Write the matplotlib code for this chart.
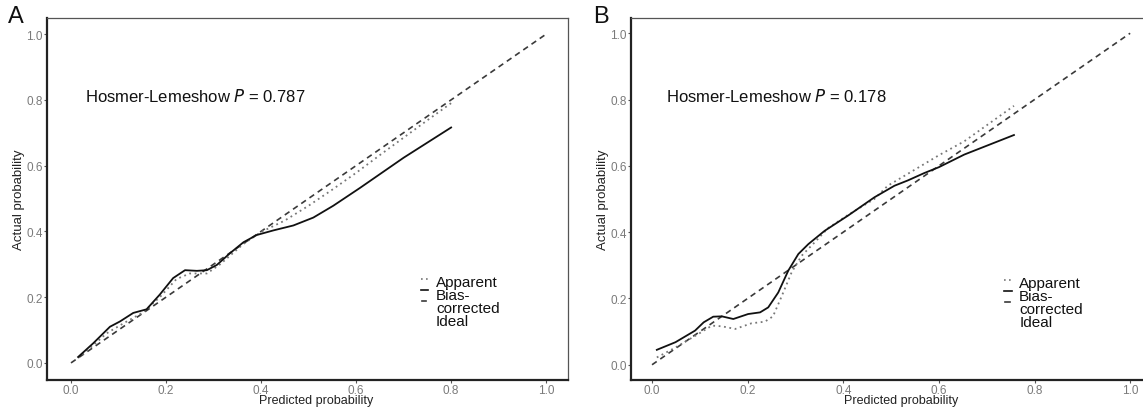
import matplotlib
matplotlib.use("Agg")
import matplotlib.pyplot as plt

plt.rcParams["font.family"] = ["Liberation Sans", "DejaVu Sans"]

# Panel A: calibration curves
a_app_x = [0.015, 0.04, 0.075, 0.11, 0.152, 0.187, 0.222, 0.25, 0.286, 0.314,
           0.363, 0.40, 0.45, 0.50, 0.55, 0.60, 0.65, 0.70, 0.75, 0.80]
a_app_y = [0.015, 0.045, 0.09, 0.12, 0.154, 0.20, 0.255, 0.272, 0.272, 0.30,
           0.362, 0.398, 0.433, 0.478, 0.527, 0.578, 0.632, 0.685, 0.738, 0.79]
a_bc_x = [0.015, 0.047, 0.082, 0.103, 0.131, 0.159, 0.187, 0.215, 0.24, 0.265,
          0.286, 0.307, 0.335, 0.363, 0.391, 0.426, 0.468, 0.51, 0.552, 0.608,
          0.70, 0.80]
a_bc_y = [0.018, 0.06, 0.11, 0.126, 0.152, 0.163, 0.208, 0.258, 0.282, 0.28,
          0.282, 0.298, 0.334, 0.367, 0.389, 0.403, 0.418, 0.442, 0.478, 0.532,
          0.624, 0.716]

# Panel B: calibration curves
b_app_x = [0.01, 0.049, 0.097, 0.125, 0.146, 0.174, 0.208, 0.236, 0.253, 0.271,
           0.292, 0.313, 0.34, 0.368, 0.41, 0.465, 0.493, 0.549, 0.60, 0.653,
           0.757]
b_app_y = [0.022, 0.052, 0.093, 0.118, 0.116, 0.108, 0.125, 0.13, 0.146, 0.206,
           0.279, 0.329, 0.369, 0.412, 0.452, 0.50, 0.54, 0.588, 0.632, 0.674,
           0.781]
b_bc_x = [0.01, 0.049, 0.09, 0.108, 0.128, 0.146, 0.17, 0.201, 0.226, 0.243,
          0.264, 0.285, 0.306, 0.327, 0.361, 0.41, 0.465, 0.507, 0.535, 0.569,
          0.60, 0.653, 0.757]
b_bc_y = [0.045, 0.068, 0.103, 0.128, 0.145, 0.146, 0.138, 0.153, 0.158, 0.173,
          0.218, 0.284, 0.334, 0.364, 0.404, 0.45, 0.505, 0.54, 0.556, 0.578,
          0.596, 0.634, 0.693]

ideal = [0.0, 1.0]
ticks = [0.0, 0.2, 0.4, 0.6, 0.8, 1.0]
tick_labels = ["0.0", "0.2", "0.4", "0.6", "0.8", "1.0"]
hl_text = ["Hosmer-Lemeshow $\\mathit{P}$ = 0.787", "Hosmer-Lemeshow $\\mathit{P}$ = 0.178"]
legend_labels = ["Apparent", "Bias-\ncorrected", "Ideal"]

W, H = 1143, 410
DOT = (0, (1, 2))
DASH = (0, (3.4, 2.6))


def draw_panel(fig, rect, xlim, ylim, app, bc, text, letter, letter_x):
    """Draws one calibration panel in pixel rectangle rect = (left, top, right, bottom)."""
    l, t, r, b = rect
    ax = fig.add_axes([l / W, (H - b) / H, (r - l) / W, (b - t) / H])
    ax.plot(ideal, ideal, color="#3a3a3a", lw=1.2, linestyle=DASH)
    ax.plot(app[0], app[1], color="#777777", lw=1.3, linestyle=DOT)
    ax.plot(bc[0], bc[1], color="#111111", lw=1.3)

    ax.set_xlim(xlim)
    ax.set_ylim(ylim)
    ax.set_xticks(ticks)
    ax.set_xticklabels(tick_labels)
    ax.set_yticks(ticks)
    ax.set_yticklabels(tick_labels)
    ax.tick_params(length=2, width=0.8, color="#555555", labelcolor="#7a7a7a",
                   labelsize=8.5, pad=1)

    for side in ["left", "bottom"]:
        ax.spines[side].set_linewidth(1.6)
        ax.spines[side].set_color("#222222")
    for side in ["top", "right"]:
        ax.spines[side].set_linewidth(0.9)
        ax.spines[side].set_color("#555555")

    ax.set_xlabel("Predicted probability", fontsize=9, color="#222222", labelpad=0)
    ax.set_ylabel("Actual probability", fontsize=9.5, color="#222222", labelpad=1)
    ax.xaxis.set_label_coords(0.516, -0.04, transform=ax.transAxes)
    ax.xaxis.label.set_va("top")

    ax.text(0.03, 0.812, text, fontsize=12, va="center", ha="left", color="#111111")

    # legend keys crammed next to the labels
    ax.plot([0.737, 0.752], [0.255, 0.255], color="#777777", lw=1.2,
            linestyle=DOT, clip_on=False)
    ax.plot([0.737, 0.752], [0.222, 0.222], color="#111111", lw=1.2, clip_on=False)
    ax.plot([0.739, 0.748], [0.189, 0.189], color="#3a3a3a", lw=1.2, clip_on=False)
    ax.text(0.768, 0.268, "\n".join(legend_labels), fontsize=11, va="top",
            ha="left", linespacing=0.92, color="#111111")

    fig.text(letter_x / W, 1 - 17 / H, letter, fontsize=17, ha="center",
             va="center", color="#111111")
    return ax


fig = plt.figure(figsize=(W / 100, H / 100), dpi=100)

draw_panel(fig, (47, 19, 568, 381), (-0.0505, 1.046), (-0.052, 1.049),
           (a_app_x, a_app_y), (a_bc_x, a_bc_y), hl_text[0], "A", 16)
draw_panel(fig, (631, 19, 1155, 381), (-0.044, 1.052), (-0.046, 1.046),
           (b_app_x, b_app_y), (b_bc_x, b_bc_y), hl_text[1], "B", 601)

fig.savefig("out.png", dpi=100)
